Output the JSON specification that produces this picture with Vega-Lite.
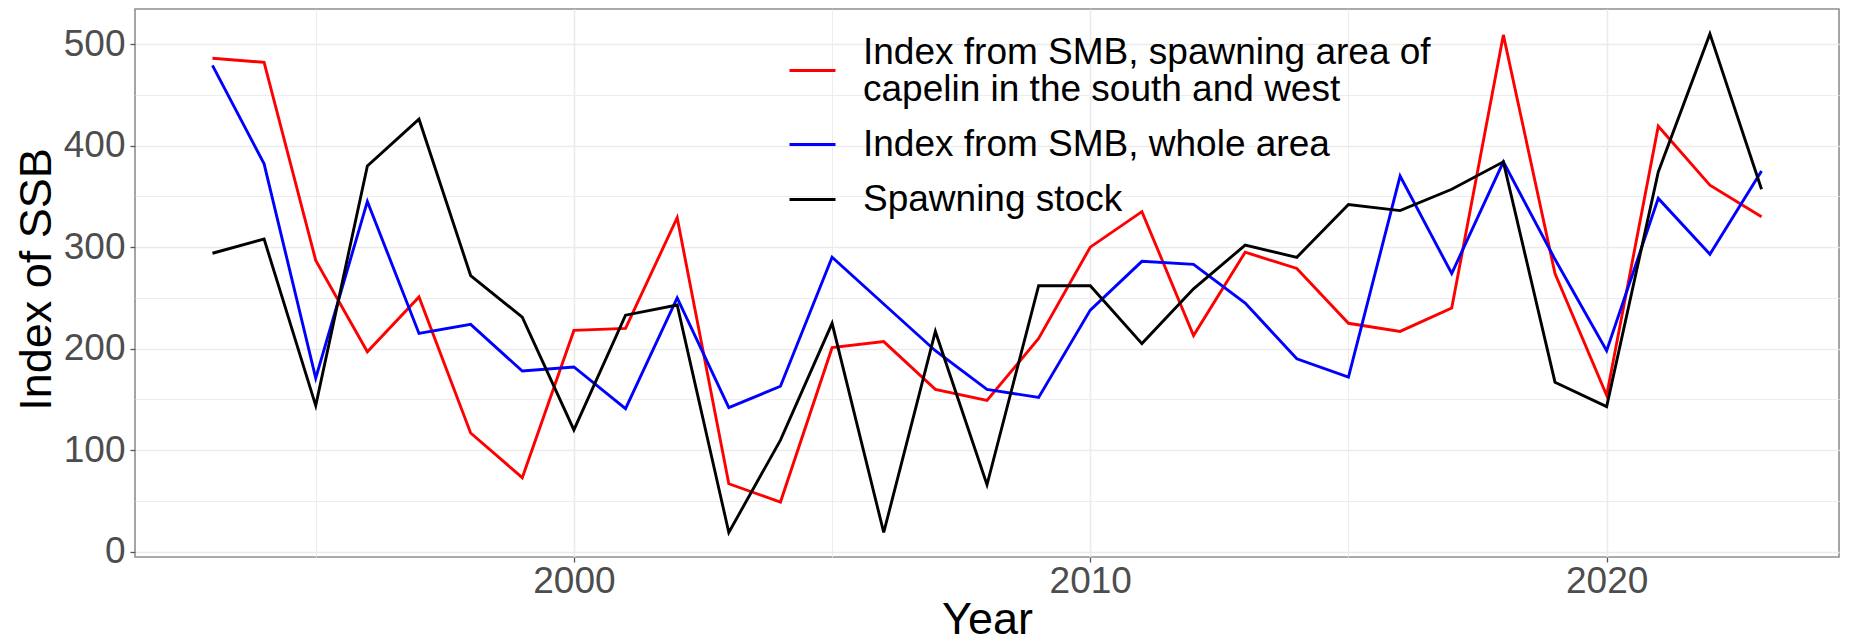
{
  "$schema": "https://vega.github.io/schema/vega-lite/v6.json",
  "width": 1704,
  "height": 548,
  "autosize": {"type": "none"},
  "padding": {"left": 135, "top": 9, "right": 13, "bottom": 86},
  "background": "white",
  "config": {
    "font": "Liberation Sans",
    "view": {"stroke": "#8F8F8F", "strokeWidth": 1.6},
    "axis": {
      "domain": false,
      "gridColor": "#EBEBEB",
      "labelFont": "Liberation Sans",
      "labelFontSize": 37,
      "labelColor": "#4D4D4D",
      "tickSize": 5,
      "tickWidth": 1.3,
      "titleFont": "Liberation Sans",
      "titleFontSize": 45,
      "titleFontWeight": "normal",
      "titleColor": "#000000"
    }
  },
  "data": {
    "values": [
      {"Year": 1993, "series": "Index from SMB, spawning area of capelin in the south and west", "value": 486},
      {"Year": 1994, "series": "Index from SMB, spawning area of capelin in the south and west", "value": 482},
      {"Year": 1995, "series": "Index from SMB, spawning area of capelin in the south and west", "value": 287},
      {"Year": 1996, "series": "Index from SMB, spawning area of capelin in the south and west", "value": 197},
      {"Year": 1997, "series": "Index from SMB, spawning area of capelin in the south and west", "value": 251},
      {"Year": 1998, "series": "Index from SMB, spawning area of capelin in the south and west", "value": 117},
      {"Year": 1999, "series": "Index from SMB, spawning area of capelin in the south and west", "value": 73},
      {"Year": 2000, "series": "Index from SMB, spawning area of capelin in the south and west", "value": 218},
      {"Year": 2001, "series": "Index from SMB, spawning area of capelin in the south and west", "value": 220},
      {"Year": 2002, "series": "Index from SMB, spawning area of capelin in the south and west", "value": 329},
      {"Year": 2003, "series": "Index from SMB, spawning area of capelin in the south and west", "value": 67},
      {"Year": 2004, "series": "Index from SMB, spawning area of capelin in the south and west", "value": 49},
      {"Year": 2005, "series": "Index from SMB, spawning area of capelin in the south and west", "value": 201},
      {"Year": 2006, "series": "Index from SMB, spawning area of capelin in the south and west", "value": 207},
      {"Year": 2007, "series": "Index from SMB, spawning area of capelin in the south and west", "value": 160},
      {"Year": 2008, "series": "Index from SMB, spawning area of capelin in the south and west", "value": 149},
      {"Year": 2009, "series": "Index from SMB, spawning area of capelin in the south and west", "value": 210},
      {"Year": 2010, "series": "Index from SMB, spawning area of capelin in the south and west", "value": 300},
      {"Year": 2011, "series": "Index from SMB, spawning area of capelin in the south and west", "value": 335},
      {"Year": 2012, "series": "Index from SMB, spawning area of capelin in the south and west", "value": 213},
      {"Year": 2013, "series": "Index from SMB, spawning area of capelin in the south and west", "value": 295},
      {"Year": 2014, "series": "Index from SMB, spawning area of capelin in the south and west", "value": 279},
      {"Year": 2015, "series": "Index from SMB, spawning area of capelin in the south and west", "value": 225},
      {"Year": 2016, "series": "Index from SMB, spawning area of capelin in the south and west", "value": 217},
      {"Year": 2017, "series": "Index from SMB, spawning area of capelin in the south and west", "value": 240},
      {"Year": 2018, "series": "Index from SMB, spawning area of capelin in the south and west", "value": 509},
      {"Year": 2019, "series": "Index from SMB, spawning area of capelin in the south and west", "value": 274},
      {"Year": 2020, "series": "Index from SMB, spawning area of capelin in the south and west", "value": 154},
      {"Year": 2021, "series": "Index from SMB, spawning area of capelin in the south and west", "value": 419},
      {"Year": 2022, "series": "Index from SMB, spawning area of capelin in the south and west", "value": 361},
      {"Year": 2023, "series": "Index from SMB, spawning area of capelin in the south and west", "value": 330},
      {"Year": 1993, "series": "Index from SMB, whole area", "value": 479},
      {"Year": 1994, "series": "Index from SMB, whole area", "value": 382},
      {"Year": 1995, "series": "Index from SMB, whole area", "value": 171},
      {"Year": 1996, "series": "Index from SMB, whole area", "value": 345},
      {"Year": 1997, "series": "Index from SMB, whole area", "value": 215},
      {"Year": 1998, "series": "Index from SMB, whole area", "value": 224},
      {"Year": 1999, "series": "Index from SMB, whole area", "value": 178},
      {"Year": 2000, "series": "Index from SMB, whole area", "value": 182},
      {"Year": 2001, "series": "Index from SMB, whole area", "value": 141},
      {"Year": 2002, "series": "Index from SMB, whole area", "value": 250},
      {"Year": 2003, "series": "Index from SMB, whole area", "value": 142},
      {"Year": 2004, "series": "Index from SMB, whole area", "value": 163},
      {"Year": 2005, "series": "Index from SMB, whole area", "value": 290},
      {"Year": 2006, "series": "Index from SMB, whole area", "value": 244},
      {"Year": 2007, "series": "Index from SMB, whole area", "value": 198},
      {"Year": 2008, "series": "Index from SMB, whole area", "value": 160},
      {"Year": 2009, "series": "Index from SMB, whole area", "value": 152},
      {"Year": 2010, "series": "Index from SMB, whole area", "value": 238},
      {"Year": 2011, "series": "Index from SMB, whole area", "value": 286},
      {"Year": 2012, "series": "Index from SMB, whole area", "value": 283},
      {"Year": 2013, "series": "Index from SMB, whole area", "value": 245},
      {"Year": 2014, "series": "Index from SMB, whole area", "value": 190},
      {"Year": 2015, "series": "Index from SMB, whole area", "value": 172},
      {"Year": 2016, "series": "Index from SMB, whole area", "value": 370},
      {"Year": 2017, "series": "Index from SMB, whole area", "value": 274},
      {"Year": 2018, "series": "Index from SMB, whole area", "value": 384},
      {"Year": 2019, "series": "Index from SMB, whole area", "value": 288},
      {"Year": 2020, "series": "Index from SMB, whole area", "value": 198},
      {"Year": 2021, "series": "Index from SMB, whole area", "value": 348},
      {"Year": 2022, "series": "Index from SMB, whole area", "value": 293},
      {"Year": 2023, "series": "Index from SMB, whole area", "value": 375},
      {"Year": 1993, "series": "Spawning stock", "value": 294},
      {"Year": 1994, "series": "Spawning stock", "value": 308},
      {"Year": 1995, "series": "Spawning stock", "value": 144},
      {"Year": 1996, "series": "Spawning stock", "value": 380},
      {"Year": 1997, "series": "Spawning stock", "value": 426},
      {"Year": 1998, "series": "Spawning stock", "value": 272},
      {"Year": 1999, "series": "Spawning stock", "value": 231},
      {"Year": 2000, "series": "Spawning stock", "value": 120},
      {"Year": 2001, "series": "Spawning stock", "value": 233},
      {"Year": 2002, "series": "Spawning stock", "value": 243},
      {"Year": 2003, "series": "Spawning stock", "value": 19},
      {"Year": 2004, "series": "Spawning stock", "value": 110},
      {"Year": 2005, "series": "Spawning stock", "value": 225},
      {"Year": 2006, "series": "Spawning stock", "value": 19},
      {"Year": 2007, "series": "Spawning stock", "value": 217},
      {"Year": 2008, "series": "Spawning stock", "value": 66},
      {"Year": 2009, "series": "Spawning stock", "value": 262},
      {"Year": 2010, "series": "Spawning stock", "value": 262},
      {"Year": 2011, "series": "Spawning stock", "value": 205},
      {"Year": 2012, "series": "Spawning stock", "value": 259},
      {"Year": 2013, "series": "Spawning stock", "value": 302},
      {"Year": 2014, "series": "Spawning stock", "value": 290},
      {"Year": 2015, "series": "Spawning stock", "value": 342},
      {"Year": 2016, "series": "Spawning stock", "value": 336},
      {"Year": 2017, "series": "Spawning stock", "value": 357},
      {"Year": 2018, "series": "Spawning stock", "value": 384},
      {"Year": 2019, "series": "Spawning stock", "value": 167},
      {"Year": 2020, "series": "Spawning stock", "value": 143},
      {"Year": 2021, "series": "Spawning stock", "value": 374},
      {"Year": 2022, "series": "Spawning stock", "value": 510},
      {"Year": 2023, "series": "Spawning stock", "value": 357}
    ]
  },
  "mark": {"type": "line", "strokeWidth": 2.9, "clip": true},
  "encoding": {
    "x": {
      "field": "Year",
      "type": "quantitative",
      "scale": {"domain": [1991.5, 2024.5], "nice": false, "zero": false},
      "axis": {
        "values": [1995, 2000, 2005, 2010, 2015, 2020],
        "format": "d",
        "labelExpr": "datum.value % 10 === 0 ? datum.label : ''",
        "labelOverlap": false,
        "labelFlush": false,
        "labelPadding": 1,
        "tickColor": {"condition": {"test": "datum.value % 10 !== 0", "value": "transparent"}, "value": "#555555"},
        "gridWidth": {"condition": {"test": "datum.value % 10 !== 0", "value": 0.9}, "value": 1.6},
        "title": "Year",
        "titleX": 852,
        "titleY": 76,
        "titleBaseline": "alphabetic",
        "titleAlign": "center"
      }
    },
    "y": {
      "field": "value",
      "type": "quantitative",
      "scale": {"domain": [-5.13, 534.5], "nice": false, "zero": false},
      "axis": {
        "values": [0, 50, 100, 150, 200, 250, 300, 350, 400, 450, 500],
        "labelExpr": "datum.value % 100 === 0 ? datum.label : ''",
        "labelOverlap": false,
        "labelFlush": false,
        "labelPadding": 5,
        "tickColor": {"condition": {"test": "datum.value % 100 !== 0", "value": "transparent"}, "value": "#555555"},
        "gridWidth": {"condition": {"test": "datum.value % 100 !== 0", "value": 0.9}, "value": 1.6},
        "title": "Index of SSB",
        "titleAngle": 270,
        "titleX": -85,
        "titleY": 270,
        "titleBaseline": "alphabetic",
        "titleAlign": "center"
      }
    },
    "color": {
      "field": "series",
      "type": "nominal",
      "scale": {
        "domain": ["Index from SMB, spawning area of capelin in the south and west", "Index from SMB, whole area", "Spawning stock"],
        "range": ["#FF0000", "#0000FF", "#000000"]
      },
      "legend": {
        "title": null,
        "orient": "none",
        "legendX": 653,
        "legendY": 37,
        "padding": 0,
        "symbolType": "stroke",
        "symbolSize": 2116,
        "symbolStrokeWidth": 2.9,
        "labelFont": "Liberation Sans",
        "labelFontSize": 37,
        "labelColor": "#000000",
        "labelLimit": 2000,
        "labelOffset": 26,
        "rowPadding": 12,
        "labelExpr": "datum.label === 'Index from SMB, spawning area of capelin in the south and west' ? ['Index from SMB, spawning area of', 'capelin in the south and west'] : datum.label",
        "encode": {
          "labels": {
            "update": {
              "lineHeight": {"value": 37},
              "dy": {"signal": "datum.value === 'Index from SMB, spawning area of capelin in the south and west' ? -18 : 0"}
            }
          }
        }
      }
    }
  }
}
